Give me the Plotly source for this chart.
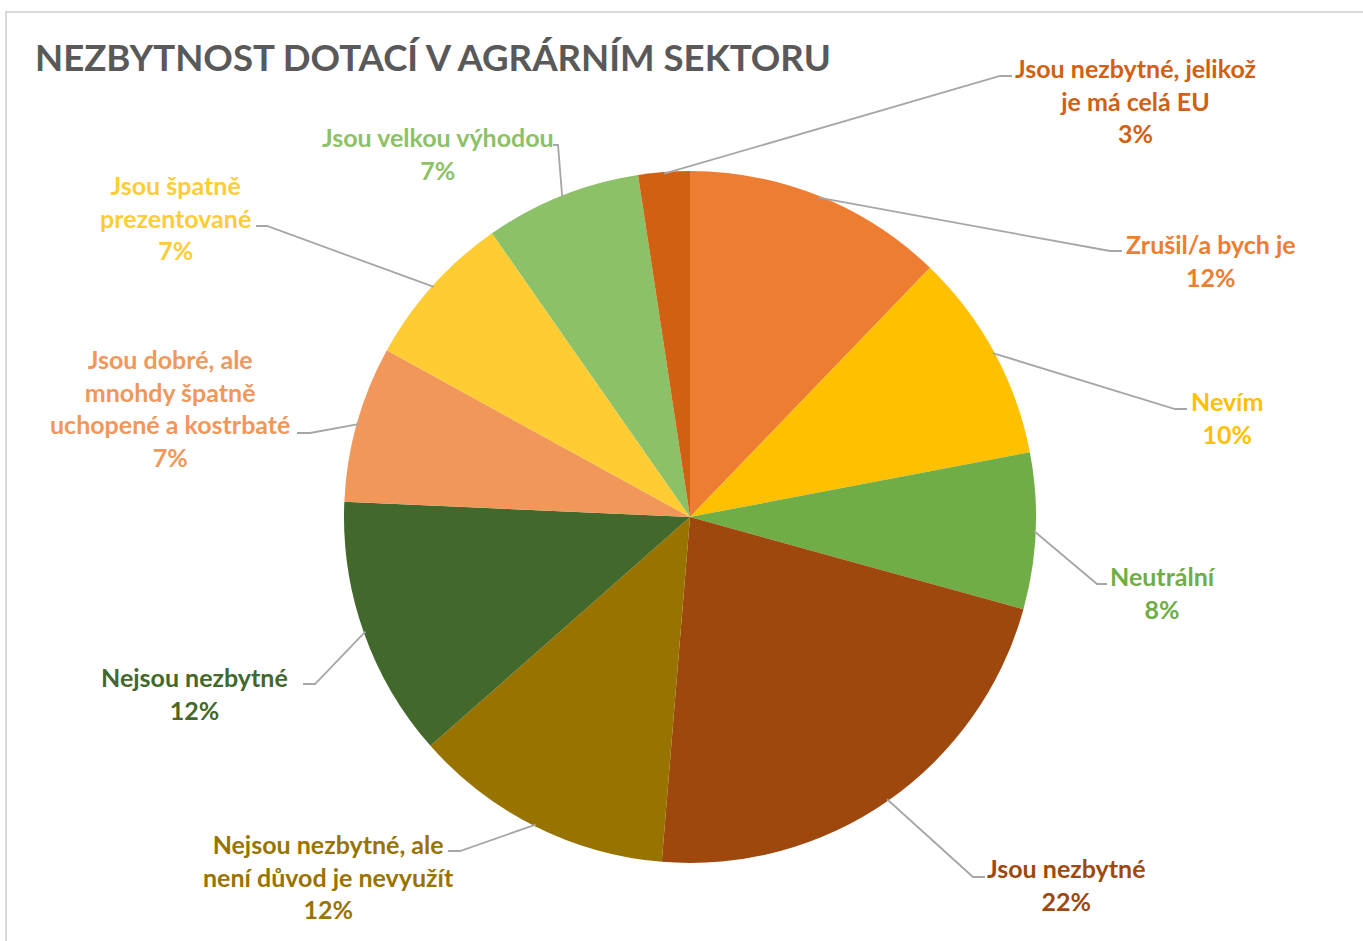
import math
import plotly.graph_objects as go

W, H = 1363, 941

# ---- data ----
categories = [
    "Zrušil/a bych je",
    "Nevím",
    "Neutrální",
    "Jsou nezbytné",
    "Nejsou nezbytné, ale není důvod je nevyužít",
    "Nejsou nezbytné",
    "Jsou dobré, ale mnohdy špatně uchopené a kostrbaté",
    "Jsou špatně prezentované",
    "Jsou velkou výhodou",
    "Jsou nezbytné, jelikož je má celá EU",
]
values = [12.2, 9.8, 7.3, 22.0, 12.2, 12.2, 7.3, 7.3, 7.3, 2.4]
pct_labels = ["12%", "10%", "8%", "22%", "12%", "12%", "7%", "7%", "7%", "3%"]
label_lines = [
    "Zrušil/a bych je",
    "Nevím",
    "Neutrální",
    "Jsou nezbytné",
    "Nejsou nezbytné, ale<br>není důvod je nevyužít",
    "Nejsou nezbytné",
    "Jsou dobré, ale<br>mnohdy špatně<br>uchopené a kostrbaté",
    "Jsou špatně<br>prezentované",
    "Jsou velkou výhodou",
    "Jsou nezbytné, jelikož<br>je má celá EU",
]
colors = ["#ED7D31", "#FFC000", "#70AD47", "#9E480E", "#997300",
          "#43682B", "#F1975A", "#FFCD33", "#8CC168", "#D26012"]

title = "NEZBYTNOST DOTACÍ V AGRÁRNÍM SEKTORU"

# ---- layout (pixels) ----
cx, cy, R = 690, 517, 346
label_pos = [(1211, 260), (1227, 417), (1163, 592), (1066, 884), (328, 876),
             (194, 693), (170, 408), (175, 218), (438, 153), (1135, 101)]
elbows = [((1110, 251), (1122, 251)), ((1175, 409), (1187, 409)),
          ((1097, 584), (1107, 584)), ((973, 877), (985, 877)),
          ((460, 851), (448, 851)), ((315, 684), (303, 684)),
          ((310, 433), (297, 433)), ((267, 226), (256, 226)),
          ((558, 145), (553, 145)), ((1000, 76), (1012, 76))]


def px(x, y):
    return x / W, 1 - y / H


fig = go.Figure(go.Pie(
    labels=categories, values=values, sort=False, direction="clockwise",
    rotation=0, marker=dict(colors=colors, line=dict(width=0)),
    textinfo="none", hoverinfo="label+percent", showlegend=False,
    domain=dict(x=[(cx - R) / W, (cx + R) / W], y=[1 - (cy + R) / H, 1 - (cy - R) / H]),
))

shapes = [dict(type="rect", xref="paper", yref="paper",
               x0=6 / W, y0=1 - 950 / H, x1=1370 / W, y1=1 - 12 / H,
               line=dict(color="#D9D9D9", width=2), layer="below")]
annotations = []

total = sum(values)
cum = 0.0
for i, v in enumerate(values):
    mid = (cum + v / 2) / total * 2 * math.pi
    cum += v
    sx = cx + R * 0.995 * math.sin(mid)
    sy = cy - R * 0.995 * math.cos(mid)
    (ex, ey), (fx, fy) = elbows[i]
    p0, p1, p2 = px(sx, sy), px(ex, ey), px(fx, fy)
    shapes.append(dict(type="path", xref="paper", yref="paper",
                       path=f"M {p0[0]} {p0[1]} L {p1[0]} {p1[1]} L {p2[0]} {p2[1]}",
                       line=dict(color="#A6A6A6", width=1.8)))
    lx, ly = px(*label_pos[i])
    annotations.append(dict(
        x=lx, y=ly, xref="paper", yref="paper", showarrow=False,
        xanchor="center", yanchor="middle", align="center",
        text=f"{label_lines[i]}<br>{pct_labels[i]}",
        font=dict(family="Lato", size=25, color=colors[i], weight="bold"),
    ))

annotations.append(dict(
    x=33 / W, y=1 - 57 / H, xref="paper", yref="paper", showarrow=False,
    xanchor="left", yanchor="middle", text=f"<b>{title}</b>",
    font=dict(family="Lato", size=36.6, color="#595959"),
))

fig.update_layout(
    width=W, height=H, margin=dict(l=0, r=0, t=0, b=0),
    paper_bgcolor="white", plot_bgcolor="white",
    shapes=shapes, annotations=annotations,
)

fig.write_html(
    "out.html",
    config={"displayModeBar": False},
    post_script="document.body.style.margin='0';document.body.style.overflow='hidden';",
)
